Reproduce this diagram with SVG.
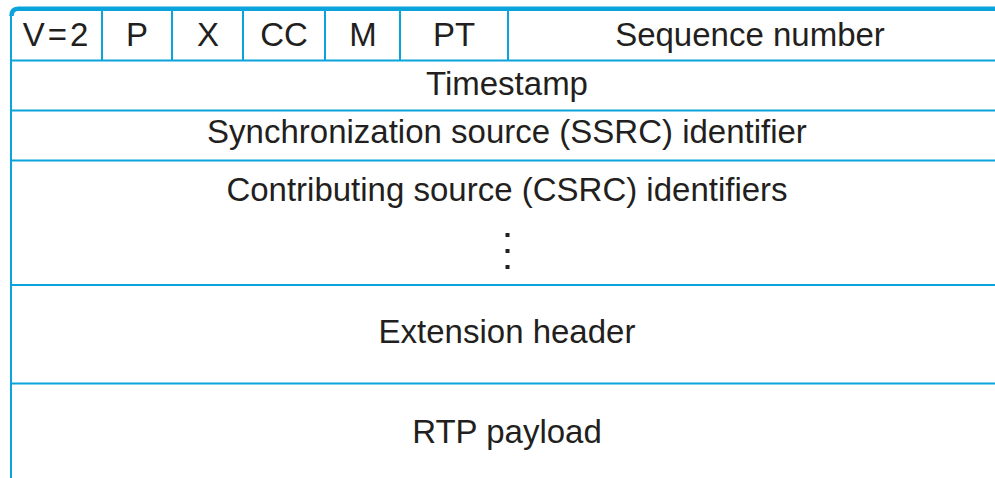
<svg xmlns="http://www.w3.org/2000/svg" width="995" height="478" viewBox="0 0 995 478">
<style>
.ln{stroke:#0aa3dc;stroke-width:2;fill:none}
.top{stroke:#0aa3dc;stroke-width:4.5;fill:none}
text{font-family:"Liberation Sans",Arial,sans-serif;font-size:33px;fill:#231f20;text-anchor:middle}
.dot{fill:#231f20}
</style>
<rect width="995" height="478" fill="#ffffff"/>
<g id="frame">
<path class="ln" d="M11 478 V14"/>
<path class="top" d="M11.5 16 Q11.5 8.7 18 8.7 H995"/>
<path class="ln" d="M11 60.5 H995 M11 110.5 H995 M11 160.5 H995 M11 285 H995 M11 383.5 H995"/>
<path class="ln" d="M102 10 V60 M172 10 V60 M243 10 V60 M325 10 V60 M400 10 V60 M508 10 V60"/>
</g>
<g id="field-version"><text x="57" y="46" letter-spacing="3">V=2</text></g>
<g id="field-p"><text x="137" y="46">P</text></g>
<g id="field-x"><text x="208" y="46">X</text></g>
<g id="field-cc"><text x="284" y="46">CC</text></g>
<g id="field-m"><text x="363" y="46">M</text></g>
<g id="field-pt"><text x="454" y="46">PT</text></g>
<g id="field-seq"><text x="750" y="46">Sequence number</text></g>
<g id="field-timestamp"><text x="507" y="95">Timestamp</text></g>
<g id="field-ssrc"><text x="507" y="143">Synchronization source (SSRC) identifier</text></g>
<g id="field-csrc"><text x="507" y="201">Contributing source (CSRC) identifiers</text>
<rect class="dot" x="505.5" y="233" width="4" height="4"/>
<rect class="dot" x="505.5" y="249" width="4" height="4"/>
<rect class="dot" x="505.5" y="265" width="4" height="4"/>
</g>
<g id="field-ext"><text x="507" y="343">Extension header</text></g>
<g id="field-payload"><text x="507" y="443">RTP payload</text></g>
</svg>
